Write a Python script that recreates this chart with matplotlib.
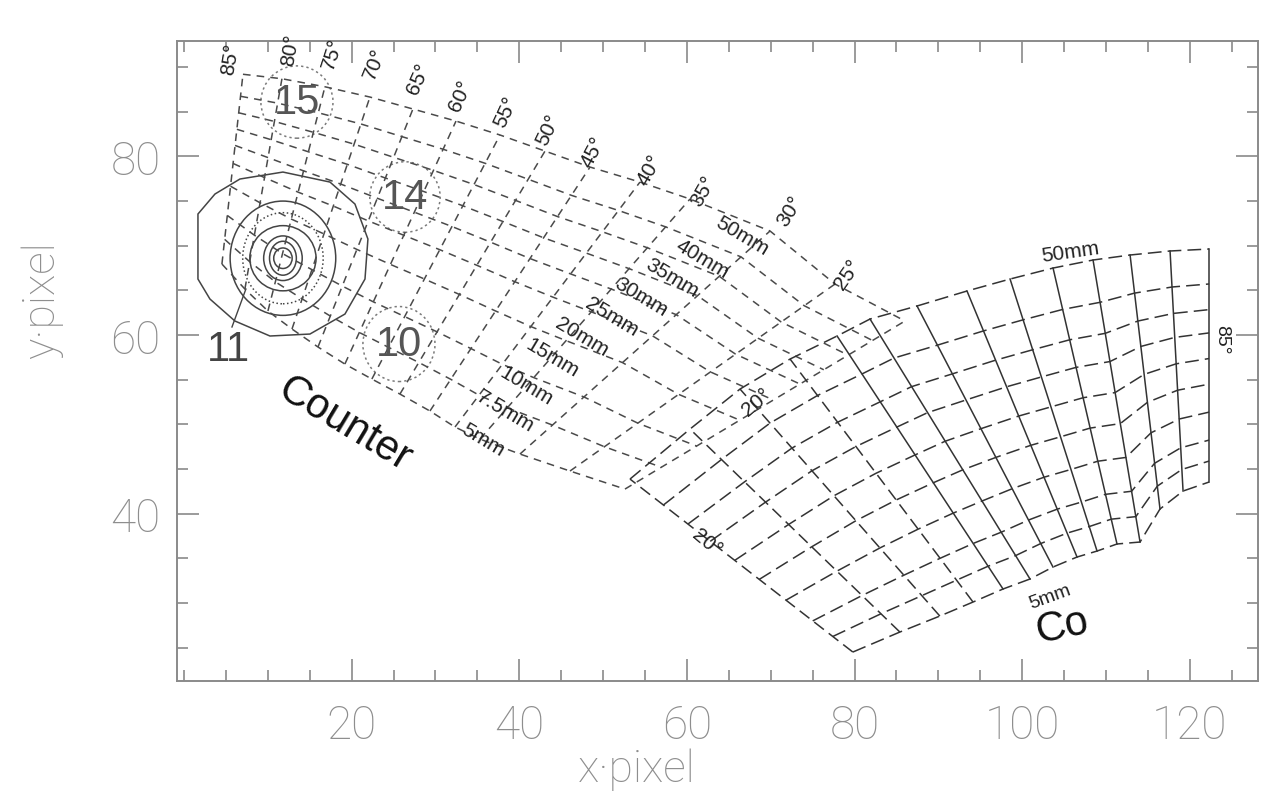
import numpy as np
import matplotlib
matplotlib.use("Agg")
import matplotlib.pyplot as plt
from matplotlib.patches import Ellipse, Polygon
from matplotlib.ticker import MultipleLocator

plt.rcParams['font.family'] = ['Liberation Sans', 'DejaVu Sans']

# ---------------- Counter grid ----------------
ctr_angles = [85, 80, 75, 70, 65, 60, 55, 50, 45, 40, 35, 30, 25, 20]
ctr_top_x = [7.03, 11.68, 16.81, 22.18, 27.31, 32.45, 37.70, 43.07, 48.44, 54.40, 60.37, 69.92, 77.67, 86.02]
ctr_top_y = [89.2, 88.7, 87.8, 86.65, 85.31, 83.96, 82.40, 80.60, 78.81, 77.13, 75.23, 71.65, 65.71, 61.57]
ctr_bot_x = [4.52, 7.26, 10.01, 12.88, 15.98, 19.19, 22.41, 25.76, 29.34, 32.33, 35.31, 40.08, 46.05, 52.61]
ctr_bot_y = [67.95, 65.15, 62.69, 60.67, 58.66, 56.75, 55.07, 53.39, 51.49, 49.70, 48.35, 46.67, 44.77, 42.75]
ctr_mm_labels = ['5mm', '7.5mm', '10mm', '15mm', '20mm', '25mm', '30mm', '35mm', '40mm', '50mm']
ctr_mm_frac = [0, 0.13, 0.256, 0.41, 0.53, 0.625, 0.71, 0.797, 0.884, 1.0]

ctr_ang_lab_x = [5.48, 12.64, 17.69, 22.78, 27.91, 32.92, 38.41, 43.42, 48.79, 55.59, 61.91, 72.29, 79.21, 68.37]
ctr_ang_lab_y = [91.0, 92.0, 91.60, 90.48, 88.79, 86.89, 85.08, 83.07, 80.60, 78.59, 76.13, 73.89, 66.83, 52.50]
ctr_ang_lab_rot = [80, 80, 72, 68, 66, 66, 65, 64, 62, 60, 60, 58, 55, 40]

ctr_mm_lab_x = [35.67, 38.29, 40.80, 43.90, 47.48, 51.06, 54.52, 58.22, 61.80, 66.58]
ctr_mm_lab_y = [48.35, 51.49, 54.40, 57.54, 59.89, 62.13, 64.37, 66.49, 68.62, 71.20]

# ---------------- Co grid ----------------
co_angles = [20, 25, 30, 35, 40, 45, 50, 55, 60, 65, 70, 75, 80, 85]
co_top_x = [53.21, 60.37, 66.34, 72.31, 77.92, 81.85, 87.46, 93.42, 98.56, 103.69, 108.46, 112.88, 117.65, 122.31]
co_top_y = [43.87, 49.47, 53.95, 57.31, 59.89, 61.79, 63.25, 64.93, 66.27, 67.50, 68.40, 68.96, 69.41, 69.63]
co_bot_x = [79.80, 85.41, 90.18, 94.14, 97.72, 100.94, 103.68, 106.55, 108.94, 111.32, 114.07, 116.45, 119.20, 122.31]
co_bot_y = [24.50, 26.74, 28.53, 30.10, 31.56, 32.68, 34.02, 35.14, 35.81, 36.60, 36.82, 40.52, 42.53, 43.54]
co_mm_frac = [0, 0.09, 0.18, 0.30, 0.42, 0.53, 0.64, 0.74, 0.85, 1.0]

# ---------------- source markers ----------------
circ_labels = ['15', '14', '10']
circ_x = [13.47, 26.36, 25.64]
circ_y = [86.09, 75.45, 58.99]
circ_w = [8.6, 8.4, 8.6]
circ_h = [8.1, 7.9, 8.4]

cont_outer_x = [1.66, 3.69, 6.67, 11.80, 17.41, 20.39, 21.94, 21.59, 19.20, 15.02, 10.25, 6.07, 3.09, 1.66]
cont_outer_y = [73.55, 75.79, 77.47, 78.25, 77.13, 74.67, 70.75, 66.27, 62.35, 60.11, 59.89, 61.57, 64.03, 66.27]
cont_cx, cont_cy = 11.8, 68.6
cont_w = [12.6, 9.6, 7.9, 4.6, 3.2, 2.2]
cont_h = [12.8, 10.2, 7.3, 5.0, 3.8, 2.3]
cont_ls = ['-', ':', '-', '-', '-', '-']
lead_x = [5.72, 7.38]
lead_y = [60.90, 65.15]

xticks = [20, 40, 60, 80, 100, 120]
yticks = [40, 60, 80]

# ---------------- figure ----------------
fig = plt.figure(figsize=(12.64, 8.04), dpi=100)
ax = fig.add_axes([0.1403, 0.1521, 0.855, 0.7956])
ax.set_xlim(-0.8, 128.15)
ax.set_ylim(21.29, 92.92)

def nodes(bx, by, tx, ty, frac):
    bx, by, tx, ty = map(np.asarray, (bx, by, tx, ty))
    f = np.asarray(frac)[None, :]
    X = bx[:, None] + f * (tx - bx)[:, None]
    Y = by[:, None] + f * (ty - by)[:, None]
    return X, Y

# Counter grid
CX, CY = nodes(ctr_bot_x, ctr_bot_y, ctr_top_x, ctr_top_y, ctr_mm_frac)
cc = '#4a4a4a'
for i in range(CX.shape[0]):
    ax.plot(CX[i, :], CY[i, :], color=cc, lw=1.1, dashes=(5, 4))
for j in range(CX.shape[1]):
    ax.plot(CX[:, j], CY[:, j], color=cc, lw=1.1, dashes=(5, 4))

# Co grid
KX, KY = nodes(co_bot_x, co_bot_y, co_top_x, co_top_y, co_mm_frac)
kc = '#333333'
for i, a in enumerate(co_angles):
    if a >= 40:
        ax.plot(KX[i, :], KY[i, :], color=kc, lw=1.1)
    else:
        ax.plot(KX[i, :], KY[i, :], color=kc, lw=1.1, dashes=(8, 4))
for j in range(KX.shape[1]):
    ax.plot(KX[:, j], KY[:, j], color=kc, lw=1.1, dashes=(9, 4))

# labels of Counter grid
for a, x, y, r in zip(ctr_angles, ctr_ang_lab_x, ctr_ang_lab_y, ctr_ang_lab_rot):
    ax.text(x, y, f'{a}°', fontsize=15, rotation=r, rotation_mode='anchor',
            ha='center', va='center', color='#222', clip_on=False)
for s, x, y in zip(ctr_mm_labels, ctr_mm_lab_x, ctr_mm_lab_y):
    ax.text(x, y, s, fontsize=15, rotation=-31, rotation_mode='anchor',
            ha='center', va='center', color='#222')

# labels of Co grid
ax.text(105.7, 69.3, '50mm', fontsize=15, rotation=8, ha='center', va='center', color='#222')
ax.text(103.3, 30.7, '5mm', fontsize=14, rotation=20, ha='center', va='center', color='#222')
ax.text(123.86, 59.55, '85°', fontsize=14, rotation=-90, ha='center', va='center', color='#222')
ax.text(62.40, 36.82, '20°', fontsize=15, rotation=-40, ha='center', va='center', color='#222')

# source circles
for s, x, y, w, h in zip(circ_labels, circ_x, circ_y, circ_w, circ_h):
    ax.add_patch(Ellipse((x, y), w, h, fill=False, ec='#7a7a7a', lw=1.1, ls=(0, (1.5, 2))))
    ax.text(x, y, s, fontsize=30, ha='center', va='center', color='#555')

# contour of source 11
ax.add_patch(Polygon(np.column_stack([cont_outer_x, cont_outer_y]), closed=True,
                     fill=False, ec='#444', lw=1.1))
for w, h, ls in zip(cont_w, cont_h, cont_ls):
    ax.add_patch(Ellipse((cont_cx, cont_cy), w, h, fill=False, ec='#444', lw=1.1, ls=ls))
ax.plot(lead_x, lead_y, color='#444', lw=1.0)
ax.text(5.24, 58.4, '11', fontsize=30, ha='center', va='center', color='#444')

ax.text(19.20, 50.03, 'Counter', fontsize=30, rotation=-31, rotation_mode='anchor',
        ha='center', va='center', color='#111')
ax.text(104.85, 27.41, 'Co', fontsize=30, rotation=12, rotation_mode='anchor',
        ha='center', va='center', color='#111')

# axes styling
grey = '#8a8a8a'
for sp in ax.spines.values():
    sp.set_color(grey)
    sp.set_linewidth(1.4)
ax.set_xticks(xticks)
ax.set_yticks(yticks)
ax.xaxis.set_minor_locator(MultipleLocator(5))
ax.yaxis.set_minor_locator(MultipleLocator(5))
ax.tick_params(which='both', direction='in', top=True, right=True, color=grey, width=1.2)
ax.tick_params(which='major', length=16)
ax.tick_params(which='minor', length=8)
ax.tick_params(axis='x', which='major', pad=16, labelsize=33, labelcolor='#8e8e8e')
ax.tick_params(axis='y', which='major', pad=12, labelsize=33, labelcolor='#8e8e8e')
for lab in ax.get_xticklabels() + ax.get_yticklabels():
    lab.set_family(['Roboto', 'DejaVu Sans'])
    lab.set_fontweight('light')

fig.text(0.504, 0.042, 'x·pixel', fontsize=32, color='#8e8e8e', ha='center', va='center',
         family=['Roboto', 'DejaVu Sans'], fontweight='light')
fig.text(0.033, 0.627, 'y·pixel', fontsize=32, color='#8e8e8e', ha='center', va='center',
         rotation=90, family=['Roboto', 'DejaVu Sans'], fontweight='light')

fig.savefig('out.png', dpi=100)
